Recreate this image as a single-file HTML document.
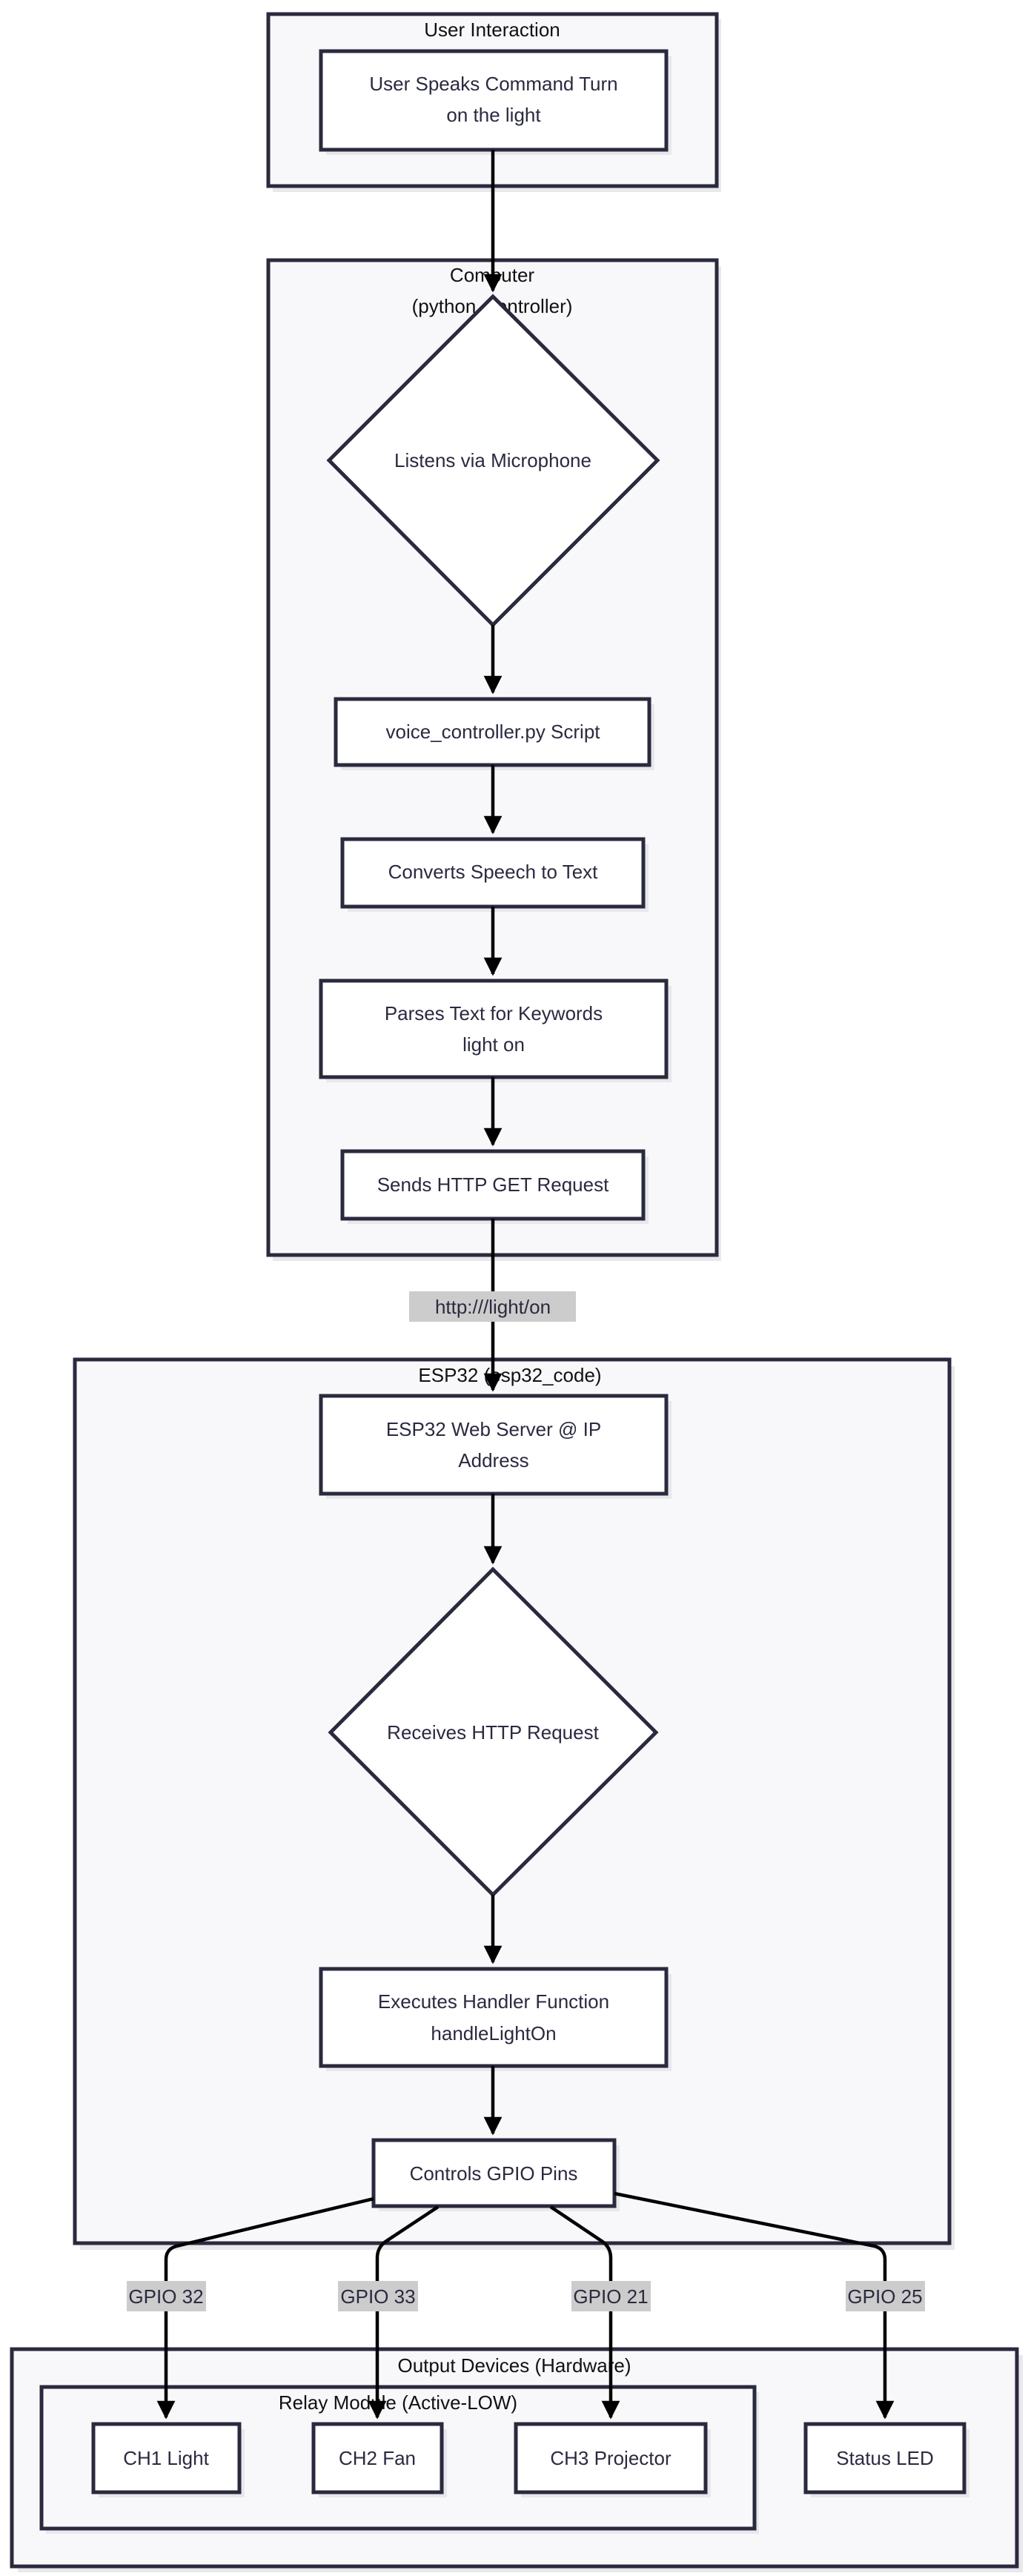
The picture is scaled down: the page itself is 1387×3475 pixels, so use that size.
<!DOCTYPE html>
<html><head><meta charset="utf-8"><style>
html,body{margin:0;padding:0;background:#fff;}
svg{display:block;}
text{font-family:"Liberation Sans",sans-serif;}
.cl{fill:#f8f8fa;stroke:#2a2a3e;stroke-width:5;}
.sh{fill:#e8e8ec;}
.nd{fill:#fff;stroke:#2a2a3e;stroke-width:5;}
.t{font-size:26px;fill:#2a2a40;text-anchor:middle;}
.ct{font-size:26px;fill:#111;text-anchor:middle;}
.e{stroke:#000;stroke-width:4.5;fill:none;}
.lb{fill:#cccccc;}
</style></head><body>
<svg width="1387" height="3475" viewBox="0 0 1387 3475" xmlns="http://www.w3.org/2000/svg">
<defs><marker id="a" viewBox="0 0 10 10" refX="9" refY="5" markerWidth="5.5" markerHeight="5.5" orient="auto" markerUnits="strokeWidth"><path d="M0,0L10,5L0,10z" fill="#000"/></marker></defs>

<rect class="sh" x="368" y="26" width="605" height="233"/>
<rect class="sh" x="368" y="359" width="605" height="1342"/>
<rect class="sh" x="108" y="1843" width="1180" height="1192"/>
<rect class="sh" x="24" y="3177" width="1356" height="293"/>

<rect class="cl" x="362" y="19" width="605" height="232"/>
<text class="ct" x="664" y="49">User Interaction</text>
<rect class="cl" x="362" y="351" width="605" height="1342"/>
<text class="ct" x="664" y="380">Computer</text>
<text class="ct" x="664" y="422">(python_controller)</text>
<rect class="cl" x="101" y="1834" width="1180" height="1192"/>
<text class="ct" x="688" y="1864">ESP32 (esp32_code)</text>
<rect class="cl" x="16" y="3169" width="1356" height="293"/>
<text class="ct" x="694" y="3200">Output Devices (Hardware)</text>
<rect class="sh" x="62" y="3227" width="962" height="191"/>
<rect class="cl" x="56" y="3220" width="962" height="191"/>
<text class="ct" x="537" y="3250">Relay Module (Active-LOW)</text>

<rect class="sh" x="440" y="76" width="466" height="133"/>
<rect class="nd" x="433" y="69" width="466" height="133"/>
<text class="t" x="666" y="122">User Speaks Command Turn</text>
<text class="t" x="666" y="164">on the light</text>

<polygon points="665,400 887,621 665,843 444,621" class="nd"/>
<text class="t" x="665" y="630">Listens via Microphone</text>

<rect class="sh" x="460" y="950" width="423" height="89"/>
<rect class="nd" x="453" y="943" width="423" height="89"/>
<text class="t" x="665" y="996">voice_controller.py Script</text>

<rect class="sh" x="469" y="1139" width="406" height="91"/>
<rect class="nd" x="462" y="1132" width="406" height="91"/>
<text class="t" x="665" y="1185">Converts Speech to Text</text>

<rect class="sh" x="440" y="1330" width="466" height="130"/>
<rect class="nd" x="433" y="1323" width="466" height="130"/>
<text class="t" x="666" y="1376">Parses Text for Keywords</text>
<text class="t" x="666" y="1418">light on</text>

<rect class="sh" x="469" y="1560" width="406" height="91"/>
<rect class="nd" x="462" y="1553" width="406" height="91"/>
<text class="t" x="665" y="1607">Sends HTTP GET Request</text>

<rect class="sh" x="440" y="1890" width="466" height="132"/>
<rect class="nd" x="433" y="1883" width="466" height="132"/>
<text class="t" x="666" y="1937">ESP32 Web Server @ IP</text>
<text class="t" x="666" y="1979">Address</text>

<polygon points="665,2117 885,2337 665,2556 446,2337" class="nd"/>
<text class="t" x="665" y="2346">Receives HTTP Request</text>

<rect class="sh" x="440" y="2663" width="466" height="131"/>
<rect class="nd" x="433" y="2656" width="466" height="131"/>
<text class="t" x="666" y="2709">Executes Handler Function</text>
<text class="t" x="666" y="2752">handleLightOn</text>

<rect class="sh" x="511" y="2894" width="325" height="89"/>
<rect class="nd" x="504" y="2887" width="325" height="89"/>
<text class="t" x="666" y="2941">Controls GPIO Pins</text>

<rect class="sh" x="133" y="3277" width="197" height="92"/>
<rect class="nd" x="126" y="3270" width="197" height="92"/>
<text class="t" x="224" y="3325">CH1 Light</text>
<rect class="sh" x="430" y="3277" width="173" height="92"/>
<rect class="nd" x="423" y="3270" width="173" height="92"/>
<text class="t" x="509" y="3325">CH2 Fan</text>
<rect class="sh" x="703" y="3277" width="256" height="92"/>
<rect class="nd" x="696" y="3270" width="256" height="92"/>
<text class="t" x="824" y="3325">CH3 Projector</text>
<rect class="sh" x="1094" y="3277" width="214" height="92"/>
<rect class="nd" x="1087" y="3270" width="214" height="92"/>
<text class="t" x="1194" y="3325">Status LED</text>

<path class="e" d="M665,202V392" marker-end="url(#a)"/>
<path class="e" d="M665,843V934" marker-end="url(#a)"/>
<path class="e" d="M665,1032V1123" marker-end="url(#a)"/>
<path class="e" d="M665,1223V1314" marker-end="url(#a)"/>
<path class="e" d="M665,1453V1544" marker-end="url(#a)"/>
<path class="e" d="M665,1644V1875" marker-end="url(#a)"/>
<path class="e" d="M665,2015V2108" marker-end="url(#a)"/>
<path class="e" d="M665,2556V2647" marker-end="url(#a)"/>
<path class="e" d="M665,2787V2878" marker-end="url(#a)"/>

<path class="e" d="M504,2966L238,3030Q224,3034 224,3048V3261" marker-end="url(#a)"/>
<path class="e" d="M591,2977L520,3024Q509,3032 509,3046V3261" marker-end="url(#a)"/>
<path class="e" d="M743,2977L813,3024Q824,3032 824,3046V3261" marker-end="url(#a)"/>
<path class="e" d="M829,2959L1180,3030Q1194,3034 1194,3048V3261" marker-end="url(#a)"/>

<rect class="lb" x="552" y="1742" width="225" height="41"/>
<text class="t" x="665" y="1772">http:///light/on</text>
<rect class="lb" x="171" y="3077" width="107" height="41"/>
<text class="t" x="224" y="3107">GPIO 32</text>
<rect class="lb" x="456" y="3077" width="108" height="41"/>
<text class="t" x="510" y="3107">GPIO 33</text>
<rect class="lb" x="771" y="3077" width="107" height="41"/>
<text class="t" x="824" y="3107">GPIO 21</text>
<rect class="lb" x="1141" y="3077" width="107" height="41"/>
<text class="t" x="1194" y="3107">GPIO 25</text>
</svg>
</body></html>
